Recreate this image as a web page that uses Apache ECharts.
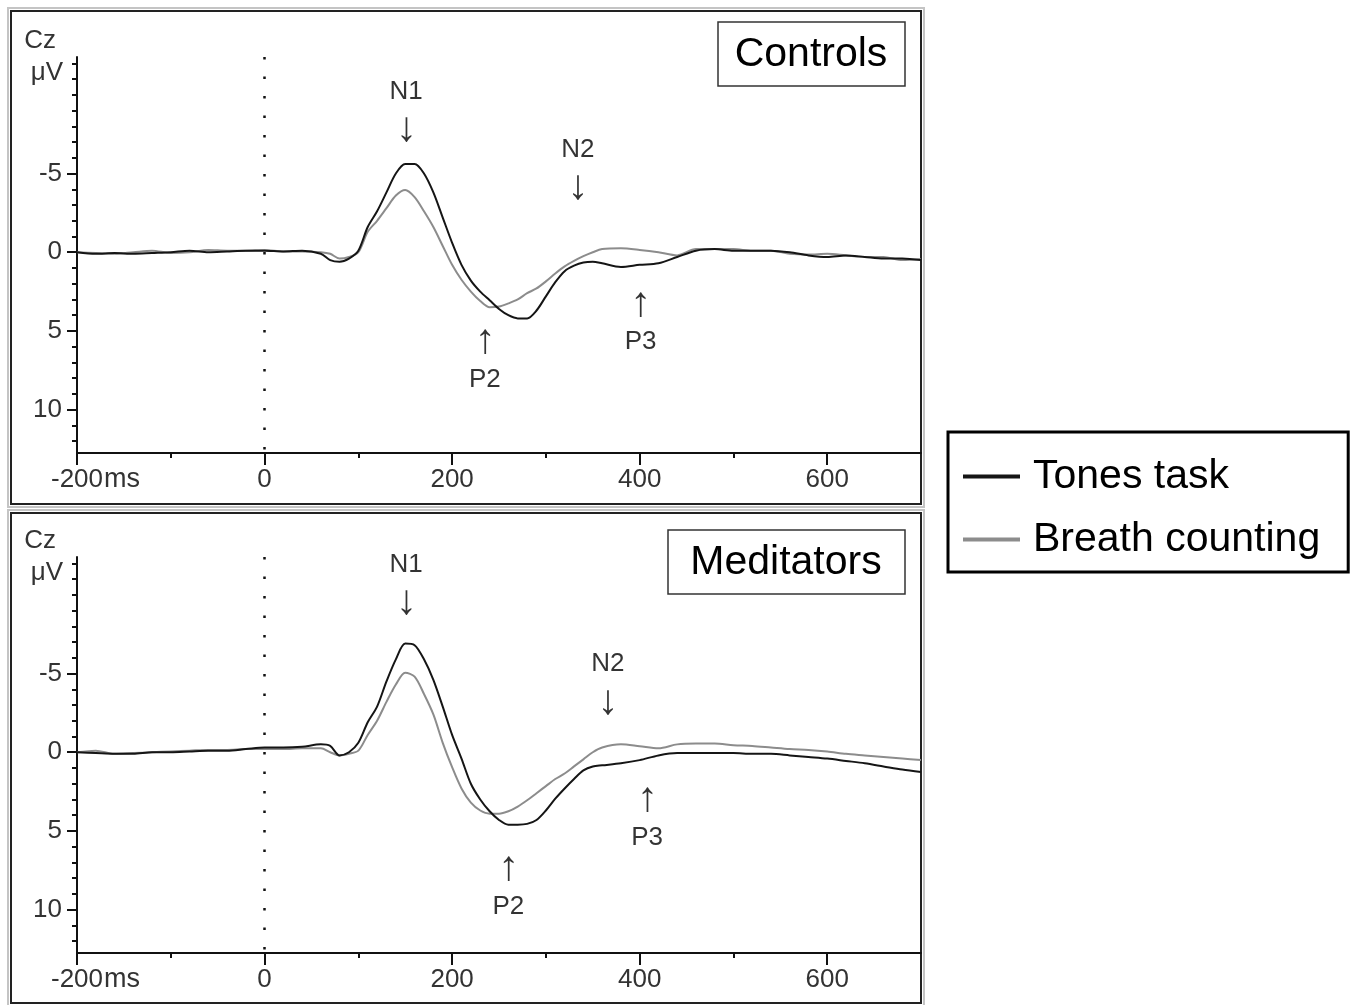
<!DOCTYPE html>
<html>
<head>
<meta charset="utf-8">
<title>ERP Cz</title>
<script src="https://cdn.jsdelivr.net/npm/echarts@6/dist/echarts.min.js"></script>
<style>
  html, body { margin: 0; padding: 0; background: #fff; }
  #chart { width: 1355px; height: 1005px; }
</style>
</head>
<body>
<div id="chart"></div>
<script>
// time points (ms)
var times = [-200,-180,-160,-140,-120,-100,-80,-60,-40,-20,0,20,40,60,70,80,90,100,110,120,130,140,150,160,170,180,190,200,210,220,230,240,250,260,270,280,290,300,310,320,330,340,350,360,380,400,420,440,460,480,500,520,540,560,580,600,620,640,660,680,700];

// amplitudes (uV), negative up
var ctrlTones = [0,0.1,0.05,0.1,0.05,0,-0.1,0,-0.05,-0.1,-0.1,-0.05,-0.1,0.1,0.5,0.6,0.4,-0.1,-1.6,-2.6,-3.8,-5.0,-5.6,-5.6,-5.0,-3.8,-2.2,-0.6,0.8,1.8,2.5,3.05,3.6,4.0,4.2,4.2,3.7,2.8,1.9,1.2,0.85,0.65,0.6,0.7,0.93,0.8,0.7,0.3,-0.1,-0.2,-0.1,-0.1,-0.1,0,0.2,0.3,0.2,0.3,0.4,0.4,0.5];
var ctrlBreath = [0,0.05,0.1,0,-0.1,0.05,0,-0.15,-0.1,-0.1,-0.15,-0.05,-0.05,0,0.1,0.4,0.3,0,-1.3,-2.0,-2.8,-3.6,-3.95,-3.5,-2.6,-1.6,-0.4,0.8,1.75,2.5,3.1,3.5,3.45,3.25,3.0,2.6,2.3,1.85,1.35,0.9,0.55,0.25,0,-0.2,-0.25,-0.15,0,0.2,-0.2,-0.2,-0.2,-0.1,-0.1,0.1,0.15,0.1,0.2,0.3,0.3,0.5,0.45];
var medTones = [0,0.05,0.1,0.1,0,0,-0.05,-0.1,-0.1,-0.2,-0.3,-0.3,-0.35,-0.5,-0.4,0.2,0,-0.6,-1.9,-2.9,-4.5,-5.9,-6.9,-6.8,-5.9,-4.6,-2.9,-1.1,0.4,2.0,3.0,3.75,4.3,4.6,4.6,4.55,4.3,3.7,2.95,2.3,1.7,1.15,0.9,0.83,0.7,0.5,0.2,0.05,0.05,0.05,0.05,0.1,0.1,0.2,0.3,0.4,0.55,0.7,0.9,1.1,1.25];
var medBreath = [0,-0.1,0.1,0.05,0,-0.05,-0.1,-0.15,-0.15,-0.2,-0.2,-0.2,-0.25,-0.25,0,0.2,0.1,-0.1,-1.1,-2.0,-3.2,-4.3,-5.05,-4.8,-3.7,-2.4,-0.6,0.95,2.3,3.2,3.7,3.9,3.9,3.75,3.45,3.05,2.6,2.15,1.7,1.35,0.9,0.45,0,-0.3,-0.5,-0.38,-0.25,-0.5,-0.55,-0.55,-0.45,-0.4,-0.3,-0.2,-0.15,-0.05,0.1,0.2,0.3,0.4,0.5];

// component labels [ms, uV, text]
var ctrlPeaks = [[151,-9.0,'{t|N1}\n{a|↓}'],[334,-5.3,'{t|N2}\n{a|↓}'],[235,6.9,'{a|↑}\n{t|P2}'],[401,4.5,'{a|↑}\n{t|P3}']];
var medPeaks = [[151,-10.7,'{t|N1}\n{a|↓}'],[366,-4.4,'{t|N2}\n{a|↓}'],[260,8.6,'{a|↑}\n{t|P2}'],[408,4.2,'{a|↑}\n{t|P3}']];

var xMajor = [-200,0,200,400,600];
var xMinor = [-100,100,300,500];
var yMajor = [-5,0,5,10];
var yMinor = [-12,-11,-10,-9,-8,-7,-6,-5,-4,-3,-2,-1,0,1,2,3,4,5,6,7,8,9,10,11,12];

var panelNames = ['Controls', 'Meditators'];

var FONT = 'Liberation Sans, Arial, sans-serif';
var chart = echarts.init(document.getElementById('chart'));

function pair(vals) {
    return times.map(function (t, i) { return [t, vals[i]]; });
}

var grids = [], xAxes = [], yAxes = [], series = [];
var panelTop = [57, 557];
var panels = [[ctrlTones, ctrlBreath, ctrlPeaks], [medTones, medBreath, medPeaks]];

panels.forEach(function (p, g) {
    grids.push({ left: 77, top: panelTop[g], width: 844, height: 396 });
    xAxes.push({
        type: 'value', gridIndex: g, position: 'bottom', min: -200, max: 700,
        axisLine: { onZero: false, lineStyle: { color: '#111', width: 2 } },
        axisTick: { customValues: xMajor, length: 12, lineStyle: { color: '#111', width: 2 } },
        axisLabel: {
            customValues: xMajor, margin: 14, color: '#333', fontSize: 26, fontFamily: FONT
        },
        splitLine: { show: false }
    });
    xAxes.push({
        type: 'value', gridIndex: g, position: 'bottom', min: -200, max: 700,
        axisLine: { show: false, onZero: false },
        axisTick: { customValues: xMinor, length: 5, lineStyle: { color: '#111', width: 2 } },
        axisLabel: { show: false },
        splitLine: { show: false }
    });
    yAxes.push({
        type: 'value', gridIndex: g, position: 'left', inverse: true, min: -12.4, max: 12.75,
        axisLine: { show: true, onZero: false, lineStyle: { color: '#111', width: 2 } },
        axisTick: { customValues: yMajor, length: 10, lineStyle: { color: '#111', width: 2 } },
        axisLabel: {
            customValues: yMajor, margin: 15, color: '#333', fontSize: 26, fontFamily: FONT
        },
        splitLine: { show: false }
    });
    yAxes.push({
        type: 'value', gridIndex: g, position: 'left', inverse: true, min: -12.4, max: 12.75,
        axisLine: { show: false, onZero: false },
        axisTick: { customValues: yMinor, length: 5, lineStyle: { color: '#111', width: 2 } },
        axisLabel: { show: false },
        splitLine: { show: false }
    });

    series.push({
        name: 'Breath counting', type: 'line', xAxisIndex: g * 2, yAxisIndex: g * 2,
        data: pair(p[1]), showSymbol: false, smooth: 0.3,
        lineStyle: { color: '#8c8c8c', width: 2 }, itemStyle: { color: '#8c8c8c' },
        markLine: {
            silent: true, symbol: 'none', label: { show: false },
            lineStyle: { color: '#111', width: 2.5, type: [2.5, 17] },
            data: [{ xAxis: 0 }]
        }
    });
    series.push({
        name: 'Tones task', type: 'line', xAxisIndex: g * 2, yAxisIndex: g * 2,
        data: pair(p[0]), showSymbol: false, smooth: 0.3,
        lineStyle: { color: '#151515', width: 2 }, itemStyle: { color: '#151515' }
    });
    series.push({
        type: 'scatter', xAxisIndex: g * 2, yAxisIndex: g * 2, symbolSize: 0, silent: true,
        data: p[2],
        label: {
            show: true, position: 'inside', formatter: function (d) { return d.data[2]; },
            align: 'center',
            rich: {
                t: { color: '#000', fontSize: 26, lineHeight: 38, fontFamily: FONT },
                a: { color: '#000', fontSize: 42, lineHeight: 38, fontFamily: FONT }
            }
        }
    });
});

var graphics = [];
[11, 513].forEach(function (y, g) {
    var h = g === 0 ? 493 : 490;
    graphics.push({ type: 'rect', shape: { x: 8, y: y - 3, width: 916, height: h + 6 }, style: { fill: null, stroke: '#c4c4c4', lineWidth: 2 } });
    graphics.push({ type: 'rect', shape: { x: 11, y: y, width: 910, height: h }, style: { fill: null, stroke: '#222', lineWidth: 2 } });
    var oy = g * 500;
    graphics.push({ type: 'text', style: { text: 'Cz', x: 56, y: 41 + oy, align: 'right', verticalAlign: 'middle', fontSize: 26, fontFamily: FONT, fill: '#333' } });
    graphics.push({ type: 'text', style: { text: 'μV', x: 63, y: 73 + oy, align: 'right', verticalAlign: 'middle', fontSize: 26, fontFamily: FONT, fill: '#333' } });
    graphics.push({ type: 'text', style: { text: 'ms', x: 104, y: 480 + oy, align: 'left', verticalAlign: 'middle', fontSize: 27, fontFamily: FONT, fill: '#333' } });
});
graphics.push({ type: 'rect', shape: { x: 718, y: 22, width: 187, height: 64 }, style: { fill: '#fff', stroke: '#333', lineWidth: 1.5 } });
graphics.push({ type: 'text', style: { text: panelNames[0], x: 811, y: 55, align: 'center', verticalAlign: 'middle', fontSize: 41, fontFamily: FONT, fill: '#000' } });
graphics.push({ type: 'rect', shape: { x: 668, y: 530, width: 237, height: 64 }, style: { fill: '#fff', stroke: '#333', lineWidth: 1.5 } });
graphics.push({ type: 'text', style: { text: panelNames[1], x: 786, y: 563, align: 'center', verticalAlign: 'middle', fontSize: 41, fontFamily: FONT, fill: '#000' } });

chart.setOption({
    animation: false,
    backgroundColor: '#fff',
    grid: grids,
    xAxis: xAxes,
    yAxis: yAxes,
    legend: {
        data: ['Tones task', 'Breath counting'],
        orient: 'vertical', left: 948, top: 432,
        padding: [24, 28, 12, 15],
        borderColor: '#000', borderWidth: 3,
        icon: 'rect', itemWidth: 57, itemHeight: 4, itemGap: 22,
        textStyle: { fontSize: 41, fontFamily: FONT, color: '#000', padding: [0, 0, 0, 8] }
    },
    graphic: graphics,
    series: series
});
</script>
</body>
</html>
